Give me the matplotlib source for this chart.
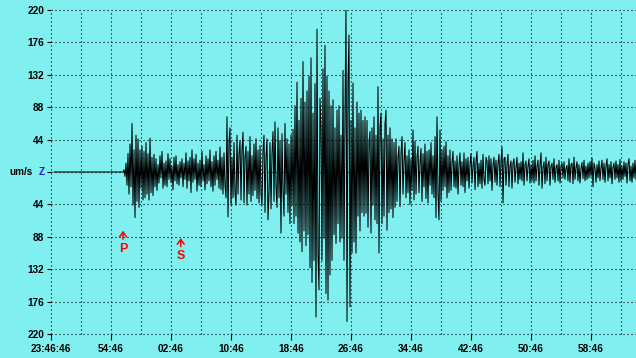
import numpy as np
import matplotlib
matplotlib.use("Agg")
import matplotlib.pyplot as plt

# ---- data (um/s, vertical component) ----
trace_start_min = 0.4          # minutes after 23:46:46
p_onset_min = 9.6
sample_interval_s = 8
p_arrival_min = 9.6
s_arrival_min = 17.3

seg_p_burst = [3, -6, 12, -18, 25, -30, 38, -20, 66, -45, 30, -62, 50, -40, 45, -48,
               30, -22, 35, -38, 28, -35, 40, -30, 25, -38, 46, -28, 20, -32, 24, -20]
seg_p_coda = [18, -25, 10, -15, 22, -8, 28, -22, 12, -18,
              15, -20, 25, -10, 18, -14, 8, -24, 20, -12,
              22, -16, 10, -18, 14, -8, 18, -20, 12, -10,
              26, -22, 15, -12, 20, -28, 30, -14, 18, -10,
              24, -26, 12, -18, 16, -20, 28, -12, 10, -24,
              22, -16, 18, -12, 30, -20, 14, -26, 22, -18,
              28, -10, 16, -22, 34, -24, 20, -30, 26, -18]
seg_s = [-35, 75, -61, 40, 60, -45, 20, -35, 40, -28,
         -45, 50, -30, 25, 42, -38, 30, 54, -42, 20,
         35, -45, 28, -30, 48, -40, 22, -32, 38, -25,
         45, -36, 30, -42, 36, -28]
seg_pre_surface = [-45, 30, 50, -55, 20, 45, -65, -30, 40, -50,
                   25, 55, -40, 68, -20, -48, 60, -35, 42, -83,
                   52, -25, -60, 66, -30, 45, -55, 38, -70, 50,
                   -45, 58]
seg_surface_1 = [-70, 90, -60, 122, -83, 70, -95, 100, -108, 150,
                 -80, 95, -100, 110, -85, 130, -130, 155, -150, 80,
                 -120, 120, -197, 194, -110, -160, 100, 60, -120, 140,
                 -90, 172, -165, 130, -174, 110, -140, 90, -120, 98]
seg_surface_2 = [-85, 60, -97, 84, -70, 90, -95, 50, -90, 138,
                 -120, 80, 221, -203, 120, 186, -183, 70, -110, 121,
                 -95, 60, -110, 95, -60, 80, -80, 84, -55, 70]
seg_surface_3 = [-60, 75, -56, 70, -75, 40, 55, -83, 60, -45,
                 75, -65, 50, -70, 116, -110, 60, 80, -70, 45,
                 -60, 65, 84, -79, 50, -55, 60, -50, 45, -62,
                 40, -48]
seg_coda_1 = [45, -40, 20, 35, -47, 25, 48, -30, 15, 40,
              -35, 22, -28, 30, -44, 18, -25, 57, -38, 42,
              -30, 20, 35, -28, 12, 32, -40, 25, -20, 38,
              -36, 28, -42, 30, -18, 40, -30, 22, -35, 48]
seg_burst_2 = [-62, 75, -30, -65, 57, -40, 30, -25, 35, -20, 41, -35, 22, -28]
seg_coda_2 = [30, -25, 12, 28, -20, 15, -22, 22, -30, 10,
              26, -18, 14, -20, 26, -28, 18, -12, 20, -22,
              10, 25, -15, 8, 20, -24, 14, 28, -20, 12,
              -16, 16, -22, 24, -10, -18, 20, 15, -16, 22,
              -12, 18, -25, 10, 20, -14, 16, -18, 12, 24,
              -20, 14]
seg_coda_3 = [34, -42, 18, 20, -18, 10, 24, -20, 8, 15,
              -22, 12, 18, -14, 6, 20, -16, 12, -10, 14,
              -12, 26, -18, 10, 15, -12, 8, 18, -15, 10,
              -12, 16]
seg_coda_4 = [-15, 22, -12, 8, 16, -18, 10, 26, -22, 6,
              14, -16, 20, -12, 10, 15, -18, 8, 12, -10,
              18, -14, 6, 10, -12, 16, -15, 8, 12, -8,
              14, -10, 5, 9, -12, 18, -14, 10, 12, -16,
              20, -10, 6, 14, -12, 10, -15, 4, 13, -9,
              16, -12, 8, -10, 12, -8, 14, -6, 19, -20,
              12, 5, -14, 10, -8, 15, -12, 6, 16, -10,
              12, -14, 8, 18, -12, 10, -8, 14, -16, 6,
              12, -10, 15, -8, 10, -14, 17, -12, 8, -10,
              14, -6, 12, -15, 10, 18, -12, 8, -14, 12,
              -8, 16, -10, 12]

y_tick_values = [-220, -176, -132, -88, -44, 0, 44, 88, 132, 176, 220]
x_tick_minutes = [0, 8, 16, 24, 32, 40, 48, 56, 64, 72]
x_tick_labels = ["23:46:46", "54:46", "02:46", "10:46", "18:46", "26:46",
                 "34:46", "42:46", "50:46", "58:46"]

# ---- build series ----
velocity = np.array(seg_p_burst + seg_p_coda + seg_s + seg_pre_surface + seg_surface_1 +
                    seg_surface_2 + seg_surface_3 + seg_coda_1 + seg_burst_2 + seg_coda_2 +
                    seg_coda_3 + seg_coda_4, dtype=float)
t_event = p_onset_min + np.arange(1, len(velocity) + 1) * sample_interval_s / 60.0
t = np.concatenate([[trace_start_min, p_onset_min], t_event])
v = np.concatenate([[0.0, 0.0], velocity])

# ---- figure ----
BG = "#7FEFEF"
fig = plt.figure(figsize=(6.36, 3.58), dpi=100, facecolor=BG)
ax = fig.add_axes([51 / 636, 24 / 358, 585 / 636, 324 / 358], facecolor=BG)
ax.set_xlim(0, 78)
ax.set_ylim(-220, 220)

grid_kw = dict(color="black", lw=0.8, linestyle=(0, (1, 2.6)), zorder=1, clip_on=False)
for xm in np.arange(0, 78, 4):
    ax.axvline(xm, **grid_kw)
for yv in y_tick_values:
    ax.axhline(yv, **grid_kw)

ax.plot(t, v, color="black", lw=0.75, zorder=3, clip_on=True)

for s in ax.spines.values():
    s.set_visible(False)

ax.set_yticks(y_tick_values)
ax.set_yticklabels([str(abs(y)) if y != 0 else "" for y in y_tick_values])
ax.set_xticks(x_tick_minutes)
ax.set_xticklabels(x_tick_labels)
ax.tick_params(axis="y", length=3, width=0.8, pad=2, labelsize=7.2)
ax.tick_params(axis="x", length=4, width=0.8, pad=3, labelsize=7.2)
for lab in ax.get_xticklabels() + ax.get_yticklabels():
    lab.set_fontweight("bold")
    lab.set_family("Liberation Sans")

ax.text(-0.8, 0, "Z", color="#2020C8", fontsize=7.2, fontweight="bold",
        family="Liberation Sans", ha="right", va="center")
ax.text(-2.4, 0, "um/s", color="black", fontsize=7.2, fontweight="bold",
        family="Liberation Sans", ha="right", va="center")

# phase picks
for tm, lab, head, tail, ty in [(p_arrival_min, "P", -76, -95, -104),
                                (s_arrival_min, "S", -86, -105, -114)]:
    ax.annotate("", xy=(tm, head), xytext=(tm, tail),
                arrowprops=dict(arrowstyle="->,head_length=0.35,head_width=0.25",
                                color="red", lw=1.1), zorder=4)
    ax.text(tm, ty, lab, color="red", fontsize=9, fontweight="bold",
            family="Liberation Sans", ha="center", va="center", zorder=4)

fig.savefig("out.png", dpi=100, facecolor=BG)
